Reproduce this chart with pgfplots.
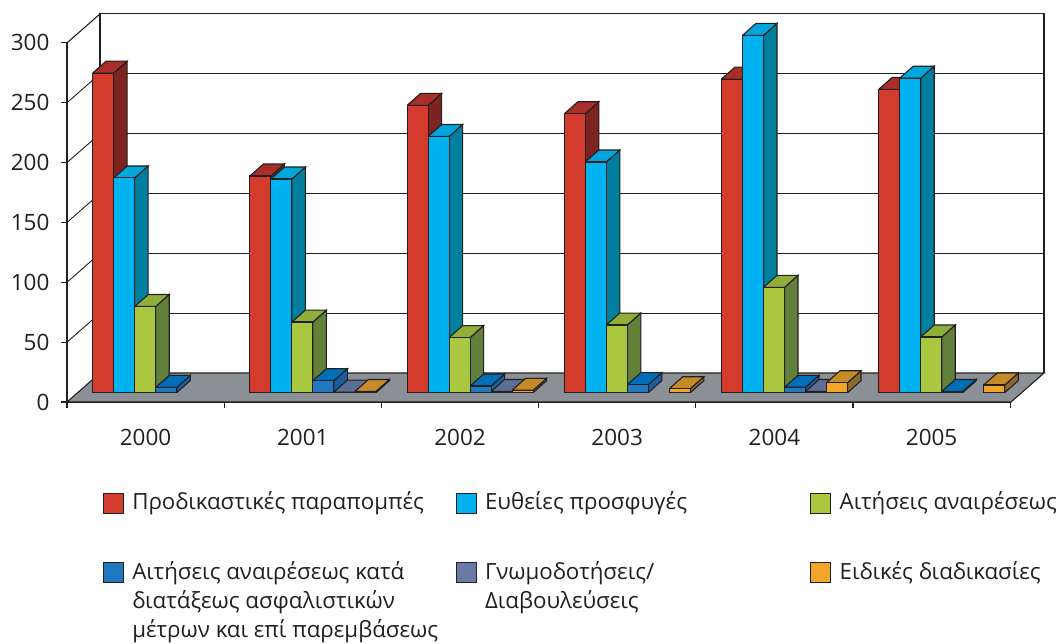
\documentclass[border=0pt]{standalone}
\usepackage{fontspec}
\setmainfont{Open Sans}
\usepackage{pgfplots}
\pgfplotsset{compat=1.18}
\definecolor{linec}{HTML}{231F20}
\definecolor{c0f}{HTML}{D33B2C}\definecolor{c0s}{HTML}{7E2420}\definecolor{c0t}{HTML}{A82E2A}
\definecolor{c1f}{HTML}{00B3F0}\definecolor{c1s}{HTML}{007FA0}\definecolor{c1t}{HTML}{00A6DC}
\definecolor{c2f}{HTML}{A9C83F}\definecolor{c2s}{HTML}{62803A}\definecolor{c2t}{HTML}{8FAE3A}
\definecolor{c3f}{HTML}{1F78C0}\definecolor{c3s}{HTML}{1A5E9F}\definecolor{c3t}{HTML}{006EB9}
\definecolor{c4f}{HTML}{6B79A6}\definecolor{c4s}{HTML}{4F5C80}\definecolor{c4t}{HTML}{5C6E96}
\definecolor{c5f}{HTML}{F2A52B}\definecolor{c5s}{HTML}{8C6A2A}\definecolor{c5t}{HTML}{C48B28}
\definecolor{floorc}{HTML}{8A9096}
% group, slot, value
\newcommand{\Bar}[3]{%
  \pgfmathsetmacro\xa{25.7+157.2*#1+21*#2}%
  \pgfmathsetmacro\xb{\xa+21}%
  \pgfmathsetmacro\xc{\xa+13.5}%
  \pgfmathsetmacro\xd{\xb+13.5}%
  \pgfmathsetmacro\ya{7.8}%
  \pgfmathsetmacro\yb{7.8+#3}%
  \pgfmathsetmacro\yc{\ya+10}%
  \pgfmathsetmacro\yd{\yb+10}%
  \edef\temp{%
    \noexpand\addplot[forget plot,fill=c#2s,draw=linec,line width=1.1pt] coordinates {(\xb,\ya)(\xd,\yc)(\xd,\yd)(\xb,\yb)(\xb,\ya)};
    \noexpand\addplot[forget plot,fill=c#2t,draw=linec,line width=1.1pt] coordinates {(\xa,\yb)(\xb,\yb)(\xd,\yd)(\xc,\yd)(\xa,\yb)};
    \noexpand\addplot[forget plot,fill=c#2f,draw=linec,line width=1.1pt] coordinates {(\xa,\ya)(\xb,\ya)(\xb,\yb)(\xa,\yb)(\xa,\ya)};
  }\temp}
\pgfplotsset{swatch/.style={legend image code/.code={%
  \draw[draw=linec,line width=1.1pt,fill=#1] (0pt,-3.7pt) rectangle (20pt,16.3pt);
  \path[draw=none,fill=none] (0pt,0pt) -- (27pt,0pt);}}}
\begin{document}
\begin{tikzpicture}
\useasboundingbox (-67pt,-241pt) rectangle (992pt,402pt);
\begin{axis}[
  scale only axis, width=944pt, height=359.1pt,
  xmin=0, xmax=944, ymin=0, ymax=300,
  clip=false,
  axis x line=bottom, axis y line=left,
  axis line style={-,draw=linec,line width=1.1pt},
  tick style={draw=linec,line width=1.1pt},
  tick align=outside,
  ytick={0,50,100,150,200,250,300},
  xtick={78.6,235.8,393,550.2,707.4,864.6},
  xticklabels={2000,2001,2002,2003,2004,2005},
  minor xtick={0,157.2,314.4,471.6,628.8,786,943.2},
  major x tick style={draw=none},
  major tick length=6pt, minor tick length=6pt,
  tick label style={font=\fontsize{22.5}{24}\selectfont, text=linec},
  /pgf/number format/assume math mode=true,
  yticklabel style={xshift=-8pt},
  xticklabel style={yshift=-18pt},
  legend columns=3,
  legend style={at={(axis cs:35.7,-73)},anchor=north west,draw=none,fill=none,
    inner sep=0pt, outer sep=0pt,
    font=\fontsize{22.3}{29.4}\selectfont, text=linec,
    cells={anchor=base west, inner sep=0pt},
    /tikz/row sep=45.5pt},
]
% back wall
\addplot[forget plot,draw=linec,line width=1.1pt] coordinates {(33,24.2)(33,324.2)(977,324.2)(977,24.2)};
\addplot[forget plot,draw=linec,line width=0.9pt] coordinates {(33,74.2)(977,74.2)};
\addplot[forget plot,draw=linec,line width=0.9pt] coordinates {(33,124.2)(977,124.2)};
\addplot[forget plot,draw=linec,line width=0.9pt] coordinates {(33,174.2)(977,174.2)};
\addplot[forget plot,draw=linec,line width=0.9pt] coordinates {(33,224.2)(977,224.2)};
\addplot[forget plot,draw=linec,line width=0.9pt] coordinates {(33,274.2)(977,274.2)};
% side wall
\addplot[forget plot,draw=linec,line width=0.9pt] coordinates {(0,50)(33,74.2)};
\addplot[forget plot,draw=linec,line width=0.9pt] coordinates {(0,100)(33,124.2)};
\addplot[forget plot,draw=linec,line width=0.9pt] coordinates {(0,150)(33,174.2)};
\addplot[forget plot,draw=linec,line width=0.9pt] coordinates {(0,200)(33,224.2)};
\addplot[forget plot,draw=linec,line width=0.9pt] coordinates {(0,250)(33,274.2)};
\addplot[forget plot,draw=linec,line width=1.1pt] coordinates {(0,300)(33,324.2)};
% floor
\addplot[forget plot,fill=floorc,draw=linec,line width=1.1pt] coordinates {(0,0)(944,0)(977,24.2)(33,24.2)(0,0)};
% bars: group, slot, value
\Bar{0}{0}{267}\Bar{0}{1}{179.4}\Bar{0}{2}{72}\Bar{0}{3}{4.4}
\Bar{1}{0}{181}\Bar{1}{1}{178.5}\Bar{1}{2}{59}\Bar{1}{3}{10}\Bar{1}{4}{0.5}\Bar{1}{5}{1}
\Bar{2}{0}{240}\Bar{2}{1}{214}\Bar{2}{2}{46}\Bar{2}{3}{5.6}\Bar{2}{4}{1}\Bar{2}{5}{2}
\Bar{3}{0}{233}\Bar{3}{1}{192.7}\Bar{3}{2}{56.5}\Bar{3}{3}{6.7}\Bar{3}{5}{3.3}
\Bar{4}{0}{262}\Bar{4}{1}{298.5}\Bar{4}{2}{88}\Bar{4}{3}{4.5}\Bar{4}{4}{1}\Bar{4}{5}{8.3}
\Bar{5}{0}{253.4}\Bar{5}{1}{262.7}\Bar{5}{2}{46.5}\Bar{5}{3}{1}\Bar{5}{5}{6.4}
% legend
\addlegendimage{swatch=c0f}\addlegendentry{\parbox[t]{321.3pt}{Προδικαστικές παραπομπές}}
\addlegendimage{swatch=c1f}\addlegendentry{\parbox[t]{323pt}{Ευθείες προσφυγές}}
\addlegendimage{swatch=c2f}\addlegendentry{\parbox[t]{220pt}{Αιτήσεις αναιρέσεως}}
\addlegendimage{swatch=c3f}\addlegendentry{\parbox[t]{321.3pt}{Αιτήσεις αναιρέσεως κατά\\διατάξεως ασφαλιστικών\\μέτρων και επί παρεμβάσεως}}
\addlegendimage{swatch=c4f}\addlegendentry{\parbox[t]{323pt}{Γνωμοδοτήσεις/\\Διαβουλεύσεις}}
\addlegendimage{swatch=c5f}\addlegendentry{\parbox[t]{220pt}{Ειδικές διαδικασίες}}
\end{axis}
\end{tikzpicture}
\end{document}
